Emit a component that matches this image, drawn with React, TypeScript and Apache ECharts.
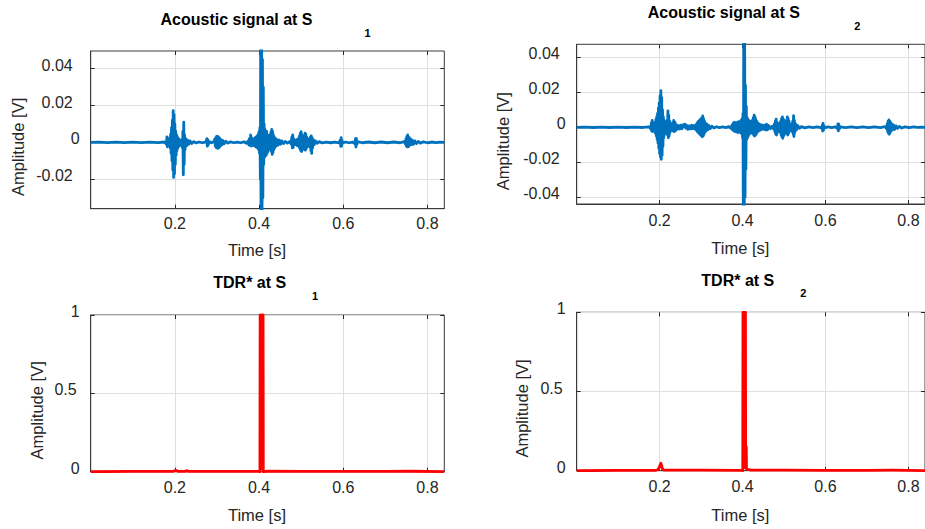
import React, { useEffect, useRef } from "react";
import * as echarts from "echarts";

// ---------- data ----------
const s1Acoustic: [number, number][] = [
  [0.000, 0.0000], [0.020, 0.0001], [0.040, -0.0001], [0.060, 0.0001], [0.080, -0.0001], [0.100, 0.0001], [0.120, -0.0001], [0.140, 0.0001], [0.160, -0.0001], [0.175, 0.0002],
  [0.180, -0.0010], [0.181, 0.0030], [0.182, -0.0024], [0.183, 0.0015], [0.184, -0.0012], [0.186, 0.0010], [0.187, -0.0010],
  [0.188, 0.0025], [0.189, -0.0030], [0.190, 0.0045], [0.191, -0.0060], [0.192, 0.0080], [0.193, -0.0100], [0.194, 0.0120], [0.195, -0.0150], [0.196, 0.0172], [0.197, -0.0190], [0.198, 0.0150], [0.199, -0.0170], [0.200, 0.0100], [0.201, -0.0120], [0.202, 0.0060], [0.203, -0.0070], [0.204, 0.0040], [0.205, -0.0045], [0.206, 0.0030], [0.207, -0.0030], [0.209, 0.0020], [0.211, -0.0020], [0.213, 0.0012], [0.215, -0.0012], [0.217, 0.0015], [0.218, -0.0030], [0.219, 0.0060], [0.220, -0.0176], [0.221, 0.0110], [0.222, -0.0120], [0.223, 0.0040], [0.224, -0.0040], [0.226, 0.0020], [0.228, -0.0018], [0.230, 0.0012], [0.233, -0.0010], [0.236, 0.0008], [0.240, -0.0006], [0.245, 0.0004], [0.250, -0.0003], [0.258, 0.0002], [0.266, -0.0002], [0.274, 0.0003],
  [0.276, 0.0020], [0.277, -0.0020], [0.278, 0.0015], [0.279, -0.0015], [0.281, 0.0004], [0.287, -0.0002], [0.293, 0.0005],
  [0.295, 0.0018], [0.296, -0.0020], [0.297, 0.0026], [0.298, -0.0028], [0.299, 0.0032], [0.300, -0.0030], [0.301, 0.0034], [0.302, -0.0033], [0.303, 0.0030], [0.304, -0.0030], [0.305, 0.0026], [0.306, -0.0025], [0.307, 0.0020], [0.308, -0.0020], [0.310, 0.0014], [0.312, -0.0013], [0.314, 0.0010], [0.317, -0.0008], [0.321, 0.0006], [0.326, -0.0004], [0.332, 0.0003], [0.340, -0.0002], [0.348, 0.0002], [0.356, -0.0002], [0.364, 0.0003], [0.370, -0.0005], [0.374, 0.0008],
  [0.376, -0.0015], [0.377, 0.0020], [0.378, -0.0015], [0.380, 0.0040], [0.381, -0.0020], [0.383, 0.0025], [0.384, -0.0015], [0.386, 0.0018], [0.387, -0.0018], [0.389, 0.0022], [0.390, -0.0020], [0.392, 0.0028], [0.393, -0.0025], [0.395, 0.0035], [0.396, -0.0030], [0.398, 0.0045], [0.399, -0.0040], [0.400, 0.0060], [0.401, -0.0060], [0.402, 0.0080], [0.403, -0.0200], [0.404, 0.0600], [0.405, -0.0500], [0.406, 0.0600], [0.407, -0.0500], [0.408, 0.0450], [0.409, -0.0300], [0.410, 0.0300], [0.411, -0.0120], [0.412, 0.0100], [0.413, -0.0080], [0.414, 0.0070], [0.415, -0.0065], [0.416, 0.0060], [0.417, -0.0070], [0.418, 0.0060], [0.419, -0.0060], [0.420, 0.0040], [0.421, -0.0050], [0.422, 0.0035], [0.423, -0.0040], [0.424, 0.0030], [0.425, -0.0030], [0.426, 0.0040], [0.427, -0.0035], [0.428, 0.0055], [0.429, -0.0050], [0.430, 0.0070], [0.431, -0.0065], [0.432, 0.0060], [0.433, -0.0055], [0.434, 0.0040], [0.435, -0.0040], [0.436, 0.0030], [0.437, -0.0030], [0.439, 0.0022], [0.441, -0.0020], [0.443, 0.0015], [0.445, -0.0015], [0.448, 0.0012], [0.451, -0.0010], [0.454, 0.0008], [0.458, -0.0006], [0.462, 0.0005], [0.467, -0.0004], [0.472, 0.0004], [0.476, -0.0008],
  [0.478, 0.0030], [0.479, -0.0030], [0.480, 0.0040], [0.481, -0.0028], [0.482, 0.0020], [0.483, -0.0015], [0.485, 0.0010], [0.487, -0.0012], [0.489, 0.0015], [0.491, -0.0018], [0.493, 0.0020], [0.495, -0.0025], [0.496, 0.0035], [0.497, -0.0035], [0.498, 0.0050], [0.499, -0.0045], [0.500, 0.0058], [0.501, -0.0050], [0.502, 0.0040], [0.503, -0.0035], [0.504, 0.0030], [0.505, -0.0030], [0.507, 0.0035], [0.508, -0.0040], [0.509, 0.0050], [0.510, -0.0042], [0.511, 0.0045], [0.512, -0.0035], [0.513, 0.0030], [0.514, -0.0025], [0.516, 0.0020], [0.518, -0.0020], [0.520, 0.0018], [0.521, -0.0025], [0.522, 0.0030], [0.523, -0.0045], [0.524, 0.0035], [0.525, -0.0060], [0.526, 0.0025], [0.527, -0.0030], [0.529, 0.0015], [0.531, -0.0012], [0.534, 0.0008], [0.538, -0.0005], [0.543, 0.0004], [0.550, -0.0003], [0.560, 0.0002], [0.570, -0.0002], [0.580, 0.0002], [0.590, -0.0003],
  [0.593, 0.0012], [0.594, -0.0022], [0.595, 0.0025], [0.596, -0.0020], [0.597, 0.0010], [0.599, -0.0003], [0.606, 0.0002], [0.614, -0.0002], [0.622, 0.0002], [0.628, -0.0008], [0.629, 0.0020], [0.630, -0.0025], [0.631, 0.0022], [0.632, -0.0012], [0.634, 0.0004], [0.645, -0.0002], [0.660, 0.0002], [0.675, -0.0002], [0.690, 0.0002], [0.705, -0.0002], [0.720, 0.0002], [0.735, -0.0002], [0.745, 0.0004],
  [0.748, -0.0010], [0.749, 0.0020], [0.750, -0.0020], [0.751, 0.0032], [0.752, -0.0024], [0.753, 0.0040], [0.754, -0.0024], [0.755, 0.0030], [0.756, -0.0020], [0.757, 0.0025], [0.758, -0.0015], [0.760, 0.0018], [0.762, -0.0012], [0.764, 0.0012], [0.767, -0.0010], [0.770, 0.0008], [0.774, -0.0006], [0.778, 0.0005], [0.783, -0.0004], [0.790, 0.0003], [0.800, -0.0002], [0.810, 0.0002], [0.820, -0.0001], [0.830, 0.0001], [0.840, 0.0000],
];

const s2Acoustic: [number, number][] = [
  [0.000, 0.0000], [0.020, 0.0001], [0.040, -0.0001], [0.060, 0.0001], [0.080, -0.0001], [0.100, 0.0001], [0.120, -0.0001], [0.140, 0.0001], [0.160, -0.0001], [0.175, 0.0003],
  [0.179, -0.0010], [0.180, 0.0025], [0.181, -0.0020], [0.182, 0.0040], [0.183, -0.0025], [0.184, 0.0020], [0.185, -0.0015], [0.187, 0.0018], [0.188, -0.0020], [0.189, 0.0030], [0.190, -0.0035], [0.191, 0.0045], [0.192, -0.0050], [0.193, 0.0060], [0.194, -0.0070], [0.195, 0.0080], [0.196, -0.0090], [0.197, 0.0110], [0.198, -0.0120], [0.199, 0.0140], [0.200, -0.0150], [0.201, 0.0180], [0.202, -0.0170], [0.203, 0.0209], [0.204, -0.0183], [0.205, 0.0170], [0.206, -0.0160], [0.207, 0.0100], [0.208, -0.0110], [0.209, 0.0060], [0.210, -0.0060], [0.211, 0.0040], [0.212, -0.0040], [0.214, 0.0025], [0.216, -0.0025], [0.218, 0.0040], [0.219, -0.0045], [0.220, 0.0093], [0.221, -0.0060], [0.222, 0.0070], [0.223, -0.0050], [0.224, 0.0035], [0.225, -0.0030], [0.227, 0.0020], [0.229, -0.0018], [0.231, 0.0025], [0.232, -0.0020], [0.234, 0.0040], [0.235, -0.0025], [0.237, 0.0030], [0.238, -0.0020], [0.240, 0.0015], [0.242, -0.0012], [0.245, 0.0010], [0.248, -0.0010], [0.251, 0.0012], [0.254, -0.0008], [0.257, 0.0015], [0.259, 0.0005], [0.261, 0.0018], [0.263, -0.0005], [0.266, 0.0010], [0.268, -0.0012], [0.271, 0.0008], [0.274, -0.0010], [0.277, 0.0012], [0.280, -0.0008], [0.283, 0.0010], [0.286, -0.0012],
  [0.288, 0.0015], [0.289, -0.0018], [0.290, 0.0022], [0.291, -0.0025], [0.292, 0.0030], [0.293, -0.0030], [0.294, 0.0035], [0.295, -0.0035], [0.296, 0.0040], [0.297, -0.0040], [0.298, 0.0045], [0.299, -0.0045], [0.300, 0.0050], [0.301, -0.0050], [0.302, 0.0055], [0.303, -0.0054], [0.304, 0.0065], [0.305, -0.0050], [0.306, 0.0050], [0.307, -0.0040], [0.308, 0.0035], [0.309, -0.0030], [0.310, 0.0025], [0.312, -0.0022], [0.314, 0.0018], [0.316, -0.0015], [0.319, 0.0010], [0.322, -0.0008], [0.326, 0.0006], [0.331, -0.0004], [0.337, 0.0003], [0.344, -0.0002], [0.352, 0.0002], [0.360, -0.0002], [0.367, 0.0004], [0.372, -0.0006],
  [0.375, 0.0015], [0.376, -0.0015], [0.378, 0.0025], [0.379, -0.0020], [0.381, 0.0030], [0.382, -0.0025], [0.384, 0.0020], [0.385, -0.0020], [0.387, 0.0028], [0.388, -0.0030], [0.390, 0.0032], [0.391, -0.0028], [0.393, 0.0030], [0.394, -0.0030], [0.396, 0.0040], [0.397, -0.0035], [0.399, 0.0050], [0.400, -0.0060], [0.401, 0.0080], [0.402, -0.0600], [0.403, 0.0600], [0.404, -0.0600], [0.405, 0.0600], [0.406, -0.0400], [0.407, 0.0240], [0.408, -0.0240], [0.409, 0.0120], [0.410, -0.0070], [0.411, 0.0055], [0.412, -0.0060], [0.413, 0.0045], [0.414, -0.0050], [0.415, 0.0040], [0.416, -0.0040], [0.417, 0.0035], [0.418, -0.0035], [0.420, 0.0030], [0.421, -0.0030], [0.423, 0.0040], [0.424, -0.0035], [0.426, 0.0055], [0.427, -0.0045], [0.428, 0.0070], [0.429, -0.0050], [0.430, 0.0060], [0.431, -0.0045], [0.432, 0.0045], [0.433, -0.0040], [0.434, 0.0035], [0.435, -0.0030], [0.437, 0.0025], [0.439, -0.0022], [0.441, 0.0018], [0.443, -0.0016], [0.446, 0.0014], [0.449, -0.0012], [0.452, 0.0012], [0.455, -0.0015], [0.458, 0.0018], [0.460, -0.0015], [0.463, 0.0010], [0.467, -0.0008], [0.471, 0.0006], [0.475, -0.0010],
  [0.477, 0.0020], [0.478, -0.0025], [0.479, 0.0035], [0.480, -0.0040], [0.481, 0.0047], [0.482, -0.0044], [0.483, 0.0030], [0.484, -0.0030], [0.486, 0.0020], [0.488, -0.0020], [0.490, 0.0025], [0.491, -0.0030], [0.492, 0.0035], [0.493, -0.0045], [0.494, 0.0050], [0.495, -0.0055], [0.496, 0.0060], [0.497, -0.0063], [0.498, 0.0050], [0.499, -0.0050], [0.500, 0.0040], [0.501, -0.0040], [0.503, 0.0030], [0.504, -0.0030], [0.506, 0.0040], [0.507, -0.0035], [0.508, 0.0060], [0.509, -0.0044], [0.510, 0.0050], [0.511, -0.0035], [0.512, 0.0035], [0.513, -0.0025], [0.515, 0.0020], [0.517, -0.0018], [0.519, 0.0020], [0.520, -0.0025], [0.521, 0.0035], [0.522, -0.0040], [0.523, 0.0066], [0.524, -0.0053], [0.525, 0.0040], [0.526, -0.0030], [0.528, 0.0020], [0.530, -0.0015], [0.533, 0.0010], [0.537, -0.0006], [0.542, 0.0004], [0.550, -0.0003], [0.560, 0.0002], [0.570, -0.0002], [0.580, 0.0002], [0.590, -0.0003],
  [0.592, 0.0010], [0.593, -0.0021], [0.594, 0.0023], [0.595, -0.0018], [0.596, 0.0010], [0.598, -0.0003], [0.606, 0.0002], [0.615, -0.0002], [0.624, 0.0002], [0.629, -0.0008], [0.630, 0.0020], [0.631, -0.0020], [0.632, 0.0018], [0.633, -0.0010], [0.636, 0.0003], [0.648, -0.0002], [0.662, 0.0002], [0.676, -0.0002], [0.690, 0.0002], [0.704, -0.0002], [0.718, 0.0002], [0.732, -0.0002], [0.744, 0.0004],
  [0.748, -0.0010], [0.749, 0.0020], [0.750, -0.0025], [0.751, 0.0035], [0.752, -0.0035], [0.753, 0.0042], [0.754, -0.0040], [0.755, 0.0035], [0.756, -0.0030], [0.757, 0.0028], [0.758, -0.0022], [0.760, 0.0020], [0.762, -0.0015], [0.764, 0.0014], [0.767, -0.0012], [0.770, 0.0008], [0.774, -0.0006], [0.778, 0.0005], [0.784, -0.0004], [0.792, 0.0003], [0.802, -0.0002], [0.812, 0.0002], [0.822, -0.0001], [0.832, 0.0001], [0.840, 0.0000],
];

const s1Tdr: [number, number][] = [
  [0.000, 0.000], [0.100, 0.002], [0.195, 0.002], [0.203, 0.008], [0.208, 0.002], [0.226, 0.003], [0.229, 0.007], [0.232, 0.002], [0.300, 0.002], [0.400, 0.002],
  [0.402, 0.000], [0.4025, 1.000], [0.403, 0.020], [0.4035, 1.000], [0.404, 0.020], [0.4045, 1.000], [0.405, 0.020], [0.4055, 1.000], [0.406, 0.020], [0.4065, 1.000], [0.407, 0.020], [0.4075, 1.000], [0.408, 0.020], [0.4085, 1.000], [0.409, 0.020], [0.4095, 1.000], [0.410, 0.000],
  [0.420, 0.003], [0.500, 0.002], [0.600, 0.002], [0.700, 0.002], [0.760, 0.003], [0.840, 0.001],
];

const s2Tdr: [number, number][] = [
  [0.000, 0.000], [0.100, 0.002], [0.190, 0.002], [0.196, 0.006], [0.199, 0.020], [0.201, 0.035], [0.203, 0.047], [0.205, 0.030], [0.207, 0.010], [0.210, 0.003], [0.300, 0.004], [0.398, 0.002],
  [0.4005, 0.000], [0.401, 1.000], [0.4015, 0.020], [0.402, 1.000], [0.4025, 0.020], [0.403, 1.000], [0.4035, 0.020], [0.404, 1.000], [0.4045, 0.020], [0.405, 1.000], [0.4055, 0.020], [0.406, 1.000], [0.4065, 0.020], [0.407, 1.000], [0.4075, 0.020], [0.408, 0.150], [0.4085, 0.020], [0.409, 0.150], [0.4095, 0.010],
  [0.420, 0.003], [0.500, 0.004], [0.600, 0.002], [0.700, 0.002], [0.760, 0.003], [0.840, 0.001],
];

const panelTitles = ["Acoustic signal at S", "Acoustic signal at S", "TDR* at S", "TDR* at S"];
const panelSubscripts = ["1", "2", "1", "2"];
const yRanges: [number, number][] = [[-0.036, 0.0496], [-0.0438, 0.0474], [0, 1], [0, 1]];
const xRange: [number, number] = [0, 0.84];
const xTicks = [0.2, 0.4, 0.6, 0.8];
const yTicksS1 = [-0.02, 0, 0.02, 0.04];
const yTicksS2 = [-0.04, -0.02, 0, 0.02, 0.04];
const yTicksTdr = [0, 0.5, 1];
const yTicks = [yTicksS1, yTicksS2, yTicksTdr, yTicksTdr];
const xName = "Time [s]";
const yName = "Amplitude [V]";
const seriesData = [s1Acoustic, s2Acoustic, s1Tdr, s2Tdr];

// ---------- layout / style ----------
const BLUE = "#0072BD";
const RED = "#FF0000";
const INK = "#262626";
const FONT = "'Liberation Sans', Arial, Helvetica, sans-serif";

const layout = [
  { grid: { left: 90.7, top: 51, width: 353.6, height: 157.7 }, color: BLUE, title: [236.5, 19], sub: [367.5, 32.5], decPad: 7, xGap: 33, yGap: 64, xMargin: 7 },
  { grid: { left: 576.7, top: 44.3, width: 358.3, height: 159.7 }, color: BLUE, title: [723.8, 12.5], sub: [857.3, 25.8], decPad: 6, xGap: 35, yGap: 65, xMargin: 8 },
  { grid: { left: 90.7, top: 315, width: 353.6, height: 156.7 }, color: RED, title: [249.7, 282.5], sub: [315, 295.8], decPad: 3, xGap: 35, yGap: 45, xMargin: 8 },
  { grid: { left: 576.7, top: 312.3, width: 358.3, height: 158.4 }, color: RED, title: [737.8, 280.5], sub: [803.3, 292.5], decPad: 3, xGap: 36, yGap: 46, xMargin: 8 },
];

function fmt(v: number): string {
  return String(+v.toFixed(4));
}

export default function App() {
  const ref = useRef<HTMLDivElement>(null);

  useEffect(() => {
    if (!ref.current) return;
    const chart = echarts.init(ref.current, null, { renderer: "svg" });

    const grids: any[] = [];
    const xAxes: any[] = [];
    const yAxes: any[] = [];
    const series: any[] = [];
    const graphics: any[] = [];

    layout.forEach((p, i) => {
      grids.push({ ...p.grid, show: true, borderColor: "#3a3a3a", borderWidth: 1, backgroundColor: "#fff", containLabel: false });
      const xTick = { show: true, inside: true, length: 4, customValues: xTicks, lineStyle: { color: INK, width: 1 } };
      const yTick = { show: true, inside: true, length: 4, customValues: yTicks[i], lineStyle: { color: INK, width: 1 } };
      const split = { show: true, lineStyle: { color: "#dfdfdf", width: 1 } };
      xAxes.push({
        type: "value", gridIndex: i, position: "bottom", min: xRange[0], max: xRange[1], splitNumber: 5,
        axisLine: { show: true, onZero: false, lineStyle: { color: "#3a3a3a", width: 1 } },
        axisTick: xTick, splitLine: split,
        axisLabel: { show: true, customValues: xTicks, margin: p.xMargin, color: INK, fontSize: 16, fontFamily: FONT, formatter: (v: number) => fmt(v) },
        name: xName, nameLocation: "middle", nameGap: p.xGap,
        nameTextStyle: { color: INK, fontSize: 16.5, fontFamily: FONT, padding: [0, 21, 0, 0] },
      });
      xAxes.push({
        type: "value", gridIndex: i, position: "top", min: xRange[0], max: xRange[1], splitNumber: 5,
        axisLine: { show: false, onZero: false }, axisTick: xTick, splitLine: { show: false }, axisLabel: { show: false },
      });
      const dp = p.decPad;
      yAxes.push({
        type: "value", gridIndex: i, position: "left", min: yRanges[i][0], max: yRanges[i][1], splitNumber: yTicks[i].length - 1,
        axisLine: { show: true, onZero: false, lineStyle: { color: "#3a3a3a", width: 1 } },
        axisTick: yTick, splitLine: split,
        axisLabel: {
          show: true, customValues: yTicks[i], margin: 11, color: INK, fontSize: 16, fontFamily: FONT,
          padding: [0, 0, 7, 0],
          formatter: (v: number) => {
            const s = fmt(v);
            return s.indexOf(".") >= 0 ? `{d|${s}}` : `{z|${s}}`;
          },
          rich: {
            d: { color: INK, fontSize: 16, fontFamily: FONT, padding: [0, dp, 0, 0] },
            z: { color: INK, fontSize: 16, fontFamily: FONT },
          },
        },
        name: yName, nameLocation: "middle", nameGap: p.yGap,
        nameTextStyle: { color: INK, fontSize: 16.5, fontFamily: FONT, padding: [0, 34, 0, 0] },
      });
      yAxes.push({
        type: "value", gridIndex: i, position: "right", min: yRanges[i][0], max: yRanges[i][1], splitNumber: yTicks[i].length - 1,
        axisLine: { show: false, onZero: false }, axisTick: yTick, splitLine: { show: false }, axisLabel: { show: false },
      });
      series.push({
        type: "line", xAxisIndex: 2 * i, yAxisIndex: 2 * i, data: seriesData[i],
        showSymbol: false, symbol: "none", silent: true, clip: true,
        lineStyle: { color: p.color, width: 2.8, join: "round" },
      });
      graphics.push({
        type: "text", x: p.title[0], y: p.title[1],
        style: { text: panelTitles[i], font: `bold 16px ${FONT}`, fill: "#000", textAlign: "center", textVerticalAlign: "middle" },
      });
      graphics.push({
        type: "text", x: p.sub[0], y: p.sub[1],
        style: { text: panelSubscripts[i], font: `bold 11px ${FONT}`, fill: "#000", textAlign: "center", textVerticalAlign: "middle" },
      });
    });

    chart.setOption({
      animation: false,
      backgroundColor: "#ffffff",
      grid: grids,
      xAxis: xAxes,
      yAxis: yAxes,
      series,
      graphic: graphics,
    });

    return () => chart.dispose();
  }, []);

  return (
    <div
      ref={ref}
      style={{ position: "fixed", left: 0, top: 0, width: 925, height: 529, background: "#fff" }}
    />
  );
}
